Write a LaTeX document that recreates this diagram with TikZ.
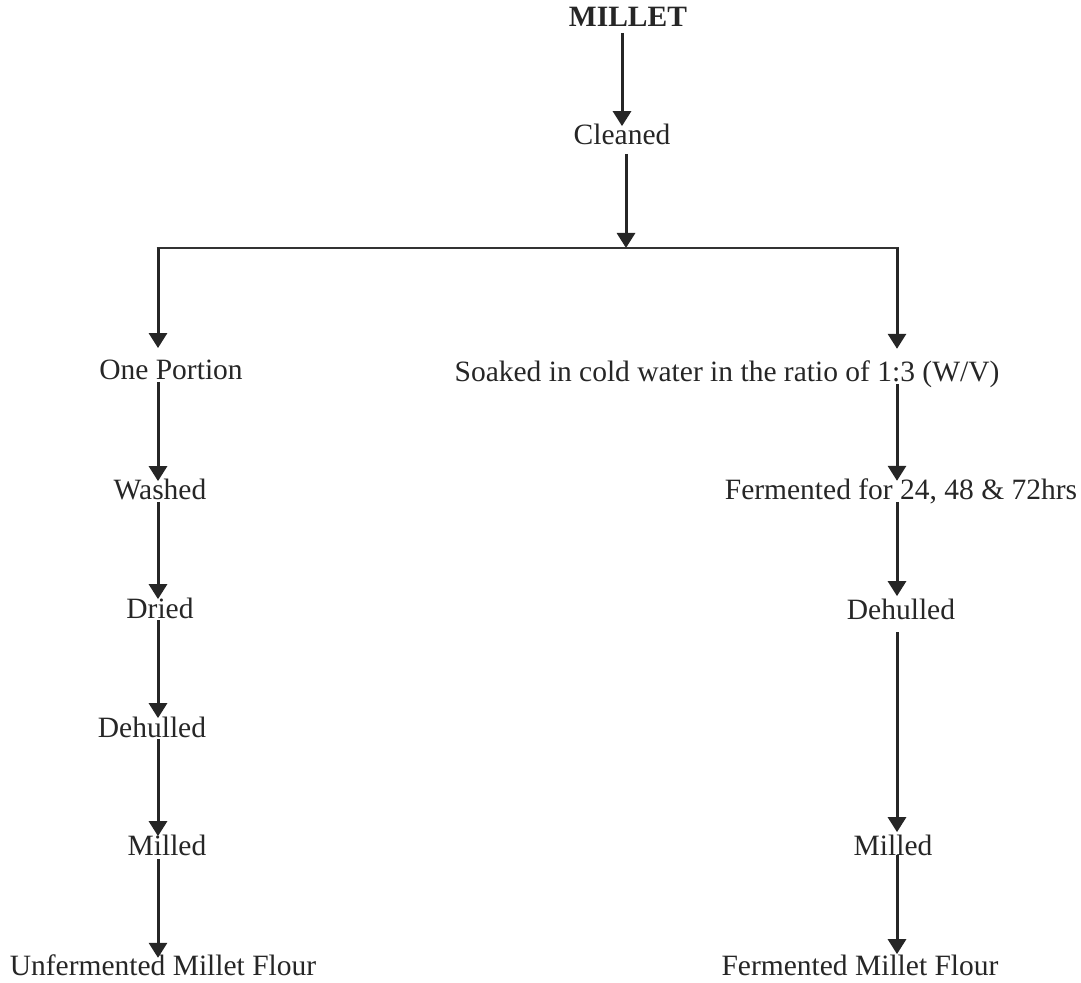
\documentclass[tikz,border=0pt]{standalone}
\usepackage{fontspec}
\setmainfont{Liberation Serif}
\usetikzlibrary{arrows.meta,positioning,calc}

\tikzset{
  stage/.style={inner sep=0pt, anchor=base, font=\fontsize{14.75}{17}\selectfont, text=black!85},
  flow/.style={-{Triangle[width=9pt,length=7.5pt]}, line width=1.5pt, draw=black!85},
}

\begin{document}
\begin{tikzpicture}[x=0.5pt, y=-0.5pt]
  \useasboundingbox (0,0) rectangle (1081,983);

  % top of the chart
  \node[stage, font=\fontsize{14.75}{17}\selectfont\bfseries] (millet) at (628,27) {MILLET};
  \node[stage] (cleaned) at (622,145) {Cleaned};

  % branch points
  \coordinate (split) at (626,248);
  \coordinate (lsplit) at (158,248);
  \coordinate (rsplit) at (897,248);

  % left branch
  \node[stage] (one) at (171,380) {One Portion};
  \node[stage] (wash) at (160,500) {Washed};
  \node[stage] (dried) at (160,618) {Dried};
  \node[stage] (dehullL) at (152,737) {Dehulled};
  \node[stage] (millL) at (167,855) {Milled};
  \node[stage] (unferm) at (163,975) {Unfermented Millet Flour};

  % right branch
  \node[stage] (soaked) at (727,382) {Soaked in cold water in the ratio of 1:3 (W/V)};
  \node[stage] (ferm) at (901,500) {Fermented for 24, 48 \& 72hrs};
  \node[stage] (dehullR) at (901,619) {Dehulled};
  \node[stage] (millR) at (893,855) {Milled};
  \node[stage] (fermflour) at (860,975) {Fermented Millet Flour};

  \draw[flow] ([yshift=-3pt]millet.base -| cleaned) -- ([yshift=-1pt]cleaned.north);
  \draw[flow] ([yshift=-4.5pt]cleaned.base -| split) -- (split);
  \draw[line width=1pt, draw=black!80] ([xshift=-0.75pt]lsplit) -- ([xshift=0.75pt]rsplit);

  \draw[flow] (lsplit) -- ([yshift=6pt]one.north -| lsplit);
  \draw[flow] ([yshift=-1pt]one.base -| lsplit) -- ([yshift=-1pt]wash.north -| lsplit);
  \draw[flow] ([yshift=-1pt]wash.base -| lsplit) -- ([yshift=-1pt]dried.north -| lsplit);
  \draw[flow] ([yshift=-1pt]dried.base -| lsplit) -- ([yshift=-1pt]dehullL.north -| lsplit);
  \draw[flow] ([yshift=-1pt]dehullL.base -| lsplit) -- ([yshift=-1pt]millL.north -| lsplit);
  \draw[flow] ([yshift=-2pt]millL.base -| lsplit) -- ([yshift=-2pt]unferm.north -| lsplit);

  \draw[flow] (rsplit) -- ([yshift=6pt]soaked.north -| rsplit);
  \draw[flow] ([yshift=-1pt]soaked.base -| rsplit) -- ([yshift=-1pt]ferm.north -| rsplit);
  \draw[flow] ([yshift=-1pt]ferm.base -| rsplit) -- ([yshift=1pt]dehullR.north -| rsplit);
  \draw[flow] ([yshift=-6.5pt]dehullR.base -| rsplit) -- ([yshift=1pt]millR.north -| rsplit);
  \draw[flow] (millR.base -| rsplit) -- (fermflour.north -| rsplit);
\end{tikzpicture}
\end{document}
